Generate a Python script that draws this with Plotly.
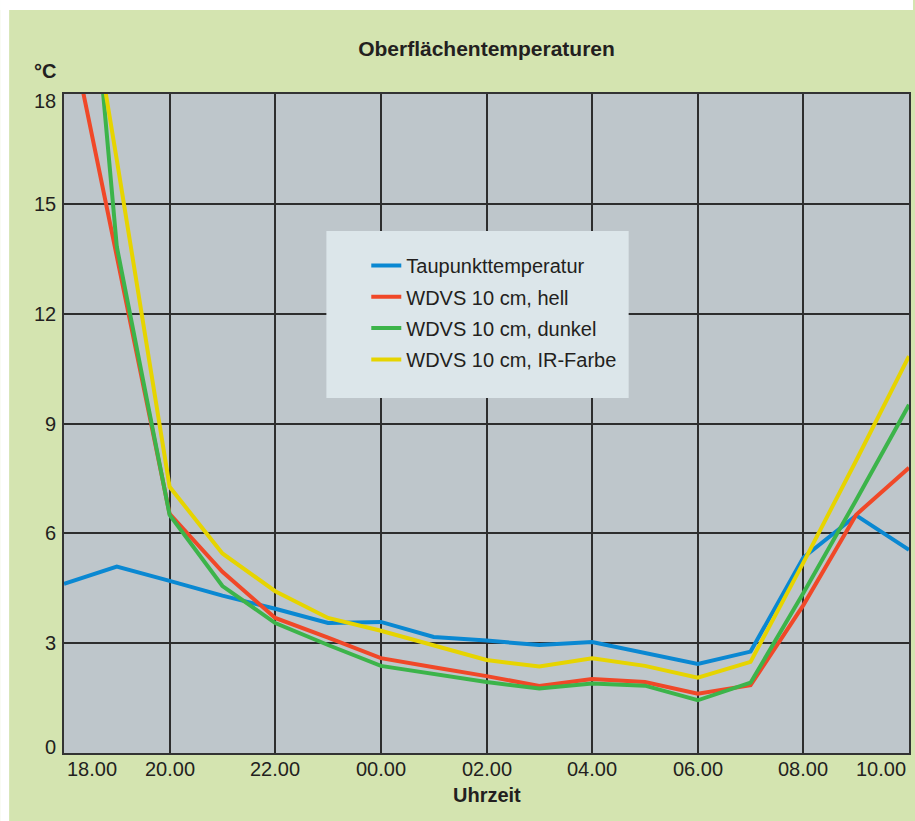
import plotly.graph_objects as go

# ---- data ----
hours = [18, 19, 20, 21, 22, 23, 24, 25, 26, 27, 28, 29, 30, 31, 32, 33, 34]
taupunkt = [4.62, 5.09, 4.70, 4.30, 3.94, 3.55, 3.58, 3.17, 3.07, 2.95, 3.03, 2.72, 2.43, 2.77, 5.34, 6.49, 5.55]
wdvs_hell = [20.6, 13.5, 6.53, 4.95, 3.69, 3.15, 2.59, 2.34, 2.10, 1.83, 2.02, 1.94, 1.62, 1.85, 4.04, 6.51, 7.79]
wdvs_dunkel = [30.0, 13.83, 6.50, 4.56, 3.55, 2.95, 2.38, 2.15, 1.94, 1.76, 1.90, 1.84, 1.44, 1.92, 4.37, 6.91, 9.51]
wdvs_ir = [24.9, 16.2, 7.27, 5.45, 4.42, 3.69, 3.34, 2.95, 2.54, 2.36, 2.59, 2.38, 2.06, 2.49, 5.20, 7.99, 10.84]

series_names = ["Taupunkttemperatur", "WDVS 10 cm, hell", "WDVS 10 cm, dunkel", "WDVS 10 cm, IR-Farbe"]
series_values = [taupunkt, wdvs_hell, wdvs_dunkel, wdvs_ir]
series_colors = ["#0a88d2", "#f04828", "#3cb44a", "#e6d400"]

x_tick_vals = [18, 20, 22, 24, 26, 28, 30, 32, 34]
x_tick_text = ["18.00", "20.00", "22.00", "00.00", "02.00", "04.00", "06.00", "08.00", "10.00"]
y_tick_vals = [0, 3, 6, 9, 12, 15, 18]
y_tick_text = ["0", "3", "6", "9", "12", "15", "18"]

title_text = "Oberflächentemperaturen"
y_unit = "°C"
x_title = "Uhrzeit"

# ---- layout geometry ----
W, H = 915, 821
L, R, T, B = 64, 4, 94, 68
PW, PH = W - L - R, H - T - B
FONT = "Liberation Sans"
TXT = "#231f20"


def px_x(px):
    return (px - L) / PW


def px_y(py):
    return (H - B - py) / PH


fig = go.Figure()
for name, vals, col in zip(series_names, series_values, series_colors):
    fig.add_trace(go.Scatter(
        x=hours, y=vals, mode="lines", name=name, legendgroup=name,
        line=dict(color=col, width=4), hoverinfo="skip",
    ))

shapes = [
    # white strips of page outside the green panel
    dict(type="rect", xref="paper", yref="paper", x0=px_x(0), x1=px_x(9), y0=px_y(H), y1=px_y(0),
         fillcolor="white", line_width=0, layer="below"),
    dict(type="rect", xref="paper", yref="paper", x0=px_x(0), x1=px_x(W), y0=px_y(10), y1=px_y(0),
         fillcolor="white", line_width=0, layer="below"),
    # legend box
    dict(type="rect", xref="paper", yref="paper", x0=px_x(327), x1=px_x(630), y0=px_y(398), y1=px_y(231),
         fillcolor="#dce6ea", line_width=0, layer="above"),
]

annotations = []
n = len(x_tick_vals)
for i, (v, t) in enumerate(zip(x_tick_vals, x_tick_text)):
    anchor = "left" if i == 0 else ("right" if i == n - 1 else "center")
    xs = 1 if i == 0 else (-1 if i == n - 1 else 0)
    annotations.append(dict(x=v, y=0, xref="x", yref="paper", text=t, showarrow=False,
                            xanchor=anchor, yanchor="middle", xshift=xs, yshift=-15.5,
                            font=dict(family=FONT, size=20, color=TXT)))
m = len(y_tick_vals)
for i, (v, t) in enumerate(zip(y_tick_vals, y_tick_text)):
    ys = 5.6 if i == 0 else (-7.4 if i == m - 1 else 0)
    annotations.append(dict(x=0, y=v, xref="paper", yref="y", text=t, showarrow=False,
                            xanchor="right", yanchor="middle", xshift=-6, yshift=ys,
                            font=dict(family=FONT, size=20, color=TXT)))
annotations.append(dict(x=px_x(58), y=px_y(71), xref="paper", yref="paper", text=y_unit, showarrow=False,
                        xanchor="right", yanchor="middle",
                        font=dict(family=FONT, size=20, color=TXT, weight="bold")))
annotations.append(dict(x=0.5, y=px_y(795), xref="paper", yref="paper", text=x_title, showarrow=False,
                        xanchor="center", yanchor="middle",
                        font=dict(family=FONT, size=20, color=TXT, weight="bold")))

fig.update_layout(
    width=W, height=H,
    margin=dict(l=L, r=R, t=T, b=B, pad=0),
    paper_bgcolor="#d4e4b0",
    plot_bgcolor="#bec6cb",
    title=dict(text=title_text, x=0.5, xref="paper", y=1 - 48.3 / H, yref="container",
               xanchor="center", yanchor="middle",
               font=dict(family=FONT, size=21, color=TXT, weight="bold")),
    xaxis=dict(range=[18, 34], tickvals=x_tick_vals, showticklabels=False, ticks="",
               showgrid=True, gridcolor="#2d2d2d", gridwidth=1.5, zeroline=False,
               showline=True, linecolor="#333333", linewidth=2, mirror=True, fixedrange=True),
    yaxis=dict(range=[0, 18], tickvals=y_tick_vals, showticklabels=False, ticks="",
               showgrid=True, gridcolor="#2d2d2d", gridwidth=1.5, zeroline=False,
               showline=True, linecolor="#333333", linewidth=2, mirror=True, fixedrange=True),
    legend=dict(x=px_x(367), y=px_y(246), xanchor="left", yanchor="top",
                bgcolor="rgba(0,0,0,0)", borderwidth=0, traceorder="grouped", tracegroupgap=2.3,
                itemwidth=30, font=dict(family=FONT, size=20, color=TXT)),
    shapes=shapes,
    annotations=annotations,
    showlegend=True,
)

fig.write_html(
    "out.html",
    config={"displayModeBar": False},
    post_script="document.body.style.margin='0px';document.body.style.overflow='hidden';",
)
